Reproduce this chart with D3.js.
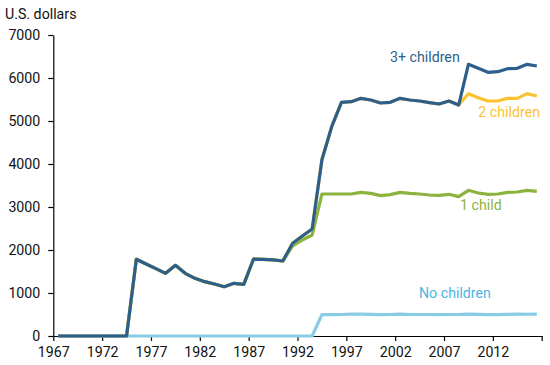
<!DOCTYPE html>
<html><head><meta charset="utf-8">
<script src="https://cdn.jsdelivr.net/npm/d3@7"></script>
<style>
body{margin:0;background:#fff;}
svg{display:block;font-family:Roboto,"Noto Sans",sans-serif;}
</style></head>
<body><svg id="c" width="550" height="365"></svg>
<script>
const years = d3.range(1967, 2017);
const threePlus = [0,0,0,0,0,0,0,0,1785,1674,1566,1457,1644,1457,1341,1264,1209,1147,1225,1202,1790,1780,1770,1744,2155,2325,2488,4100,4868,5434,5450,5527,5488,5419,5434,5527,5488,5465,5426,5395,5465,5372,6318,6225,6132,6147,6217,6225,6318,6279];
const twoChildren = [0,0,0,0,0,0,0,0,1785,1674,1566,1457,1644,1457,1341,1264,1209,1147,1225,1202,1790,1780,1770,1744,2155,2325,2488,4100,4868,5434,5450,5527,5488,5419,5434,5527,5488,5465,5426,5395,5465,5372,5636,5543,5465,5465,5527,5527,5636,5581];
const oneChild = [0,0,0,0,0,0,0,0,1785,1674,1566,1457,1644,1457,1341,1264,1209,1147,1225,1202,1790,1780,1770,1744,2093,2233,2349,3302,3302,3302,3302,3341,3318,3264,3287,3341,3318,3302,3279,3272,3295,3240,3388,3326,3295,3302,3341,3349,3388,3364];
const noChildren = [0,0,0,0,0,0,0,0,0,0,0,0,0,0,0,0,0,0,0,0,0,0,0,0,0,0,0,496,496,500,508,510,505,496,500,510,500,500,500,498,500,500,510,505,495,497,505,508,506,510];
const xTicks = [1967,1972,1977,1982,1987,1992,1997,2002,2007,2012,2017];
const xTickLabels = ["1967","1972","1977","1982","1987","1992","1997","2002","2007","2012",""];
const yTicks = [0,1000,2000,3000,4000,5000,6000,7000];

const series = [
  {name:"1 child", values: oneChild, color:"#8db33f", label:{x:460, y:210, anchor:"start"}},
  {name:"2 children", values: twoChildren, color:"#fcc230", label:{x:540, y:117, anchor:"end"}},
  {name:"No children", values: noChildren, color:"#88cbe6", text:"#4fb6e0", label:{x:419, y:298, anchor:"start"}},
  {name:"3+ children", values: threePlus, color:"#2d5f8c", label:{x:390, y:62, anchor:"start"}}
];

const FS = "14.2px";
const svg = d3.select("#c");
const x = d3.scaleLinear().domain([1967, 2017]).range([53.3, 541.7]);
const y = d3.scaleLinear().domain([0, 7000]).range([336, 35]);

const gx = svg.append("g").attr("transform","translate(0,336)")
  .call(d3.axisBottom(x).tickValues(xTicks).tickFormat((d,i)=>xTickLabels[i]).tickSize(5).tickSizeOuter(0));
const gy = svg.append("g").attr("transform","translate(53.3,0)")
  .call(d3.axisLeft(y).tickValues(yTicks).tickFormat(d3.format("d")).tickSize(5).tickSizeOuter(0));
[gx,gy].forEach(g=>{
  g.selectAll("path,line").attr("stroke","#000").attr("stroke-width",1.2);
  g.selectAll("text").attr("fill","#111").style("font-size",FS).style("font-family","Roboto, sans-serif");
});
gx.selectAll("text").attr("dy","0.92em");
gy.selectAll("text").attr("dx","-5").attr("dy","0.34em");

svg.append("text").attr("x",5).attr("y",19).text("U.S. dollars")
  .attr("fill","#111").style("font-size",FS);

const line = d3.line().x((d,i)=>x(years[i]+0.5)).y(d=>y(d));
series.forEach(s=>{
  svg.append("path").datum(s.values).attr("d",line)
    .attr("fill","none").attr("stroke",s.color).attr("stroke-width",3.2)
    .attr("stroke-linejoin","round");
});
series.forEach(s=>{
  svg.append("text").attr("x",s.label.x).attr("y",s.label.y)
    .attr("text-anchor",s.label.anchor).text(s.name)
    .attr("fill", s.text || s.color).style("font-size",FS);
});
</script></body></html>
